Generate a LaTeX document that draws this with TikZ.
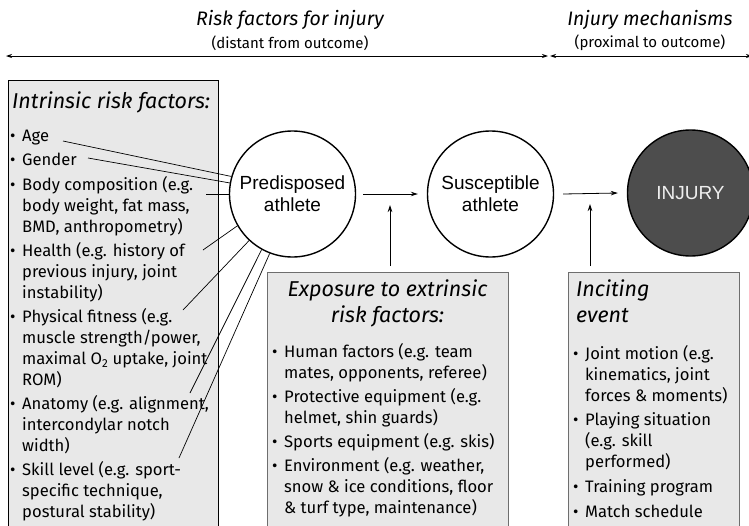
\documentclass[tikz,border=0pt]{standalone}
\usepackage{fontspec}
\setmainfont{Fira Sans}
\newfontfamily\circfam{Liberation Sans}
\usetikzlibrary{arrows.meta}
\definecolor{boxgray}{HTML}{E8E8E8}
\definecolor{injgray}{HTML}{4D4D4D}
\definecolor{injtext}{HTML}{EEEEEE}
\definecolor{edgegray}{HTML}{6E6E6E}
\newcommand{\bu}{\makebox[12pt][l]{\textbullet}}
\newcommand{\ii}{\hspace*{12pt}}
\begin{document}
\begin{tikzpicture}[x=1pt,y=-1pt,
  circ/.style={circle, draw, line width=1.4pt, minimum size=126pt, inner sep=0pt, align=center,
    font=\circfam\fontsize{19}{22}\selectfont},
  gbox/.style={draw, fill=boxgray, line width=0.9pt, inner sep=0pt, anchor=north west},
  boxtext/.style={align=left, inner sep=0pt, anchor=north west, font=\fontsize{16.6}{21}\selectfont},
  headtext/.style={inner sep=0pt, font=\itshape\fontsize{21.5}{25.5}\selectfont},
  titletext/.style={inner sep=0pt, font=\itshape\fontsize{19.5}{24}\selectfont},
  subtext/.style={inner sep=0pt, font=\fontsize{15}{18}\selectfont},
  conn/.style={line width=0.7pt},
  arr/.style={-{Stealth[length=7pt,width=4.5pt]}, line width=0.8pt},
  dblarr/.style={{Stealth[length=6pt,width=4pt]}-{Stealth[length=6pt,width=4pt]}, line width=0.8pt}]
\useasboundingbox (0,0) rectangle (749,525);
\clip (0,0) rectangle (749,525);
\fill[white] (0,0) rectangle (749,525);

% titles
\node[titletext] (t1) at (290,20) {Risk factors for injury};
\node[subtext] (t1s) at (290,43) {(distant from outcome)};
\node[titletext] (t2) at (650,20) {Injury mechanisms};
\node[subtext] (t2s) at (650,43) {(proximal to outcome)};
\coordinate (a1) at (6,56);
\coordinate (a2) at (548,56);
\coordinate (a3) at (550,56);
\coordinate (a4) at (752,56);
\draw[dblarr] (a1) -- (a2);
\draw[dblarr] (a3) -- (a4);

% boxes
\node[gbox, minimum width=210pt, minimum height=460pt] (lb) at (8,80) {};
\node[gbox, draw=edgegray, minimum width=241pt, minimum height=270pt] (eb) at (267,272) {};
\node[gbox, draw=edgegray, minimum width=171pt, minimum height=270pt] (ib) at (568,272) {};

% circles
\node[circ] (pre) at (292.5,194) {Predisposed\\athlete};
\node[circ] (sus) at (490.5,194) {Susceptible\\athlete};
\node[circ, fill=injgray, text=injtext] (inj) at (690.5,193) {INJURY};

% left box text
\node[headtext, anchor=west] (lh) at (12,102) {Intrinsic risk factors:};
\node[boxtext] (lt) at (10,130) {%
\bu Age\\[3.2pt]
\bu Gender\\[3.2pt]
\bu Body composition (e.g.\\
\ii body weight, fat mass,\\
\ii BMD, anthropometry)\\[3.2pt]
\bu Health (e.g. history of\\
\ii previous injury, joint\\
\ii instability)\\[3.2pt]
\bu Physical fitness (e.g.\\
\ii muscle strength/power,\\
\ii maximal O\textsubscript{2} uptake, joint\\
\ii ROM)\\[3.2pt]
\bu Anatomy (e.g. alignment,\\
\ii intercondylar notch\\
\ii width)\\[3.2pt]
\bu Skill level (e.g. sport-\\
\ii specific technique,\\
\ii postural stability)};

% exposure box text
\node[headtext, align=center, anchor=north] (eh) at (387.5,280) {Exposure to extrinsic\\risk factors:};
\node[boxtext] (et) at (272,343) {%
\bu Human factors (e.g. team\\
\ii mates, opponents, referee)\\[3pt]
\bu Protective equipment (e.g.\\
\ii helmet, shin guards)\\[3pt]
\bu Sports equipment (e.g. skis)\\[3pt]
\bu Environment (e.g. weather,\\
\ii snow \& ice conditions, floor\\
\ii \& turf type, maintenance)};

% inciting box text
\node[headtext, align=left, anchor=north west] (ih) at (576,280) {Inciting\\event};
\node[boxtext] (it) at (573,345) {%
\bu Joint motion (e.g.\\
\ii kinematics, joint\\
\ii forces \& moments)\\[3.7pt]
\bu Playing situation\\
\ii (e.g. skill\\
\ii performed)\\[3.7pt]
\bu Training program\\[3.7pt]
\bu Match schedule};

% main arrows
\draw[arr] ([xshift=7pt]pre.east) -- ([xshift=-9pt]sus.west);
\draw[arr] ([xshift=9pt]sus.east) -- ([xshift=-9pt]inj.west);
\coordinate (etip) at (390,205);
\coordinate (itip) at (590,204);
\draw[arr] (etip |- eb.north) ++(0,-6) -- (etip);
\draw[arr] (itip |- ib.north) ++(0,-6) -- (itip);

% risk factor lines
\coordinate (cAge) at (63,141);
\coordinate (cGen) at (88,158);
\coordinate (cBody) at (206,194);
\coordinate (cHealth) at (203,250);
\coordinate (cFit) at (183,310);
\coordinate (cAna) at (190,393);
\coordinate (cSkill) at (179,458);
\draw[conn] (cAge) -- (pre.164);
\draw[conn] (cGen) -- (pre.170);
\draw[conn] (cBody) -- (pre.180);
\draw[conn] (cHealth) -- (pre.210);
\draw[conn] (cFit) -- (pre.227);
\draw[conn] (cAna) -- (pre.241);
\draw[conn] (cSkill) -- (pre.249);
\end{tikzpicture}
\end{document}
